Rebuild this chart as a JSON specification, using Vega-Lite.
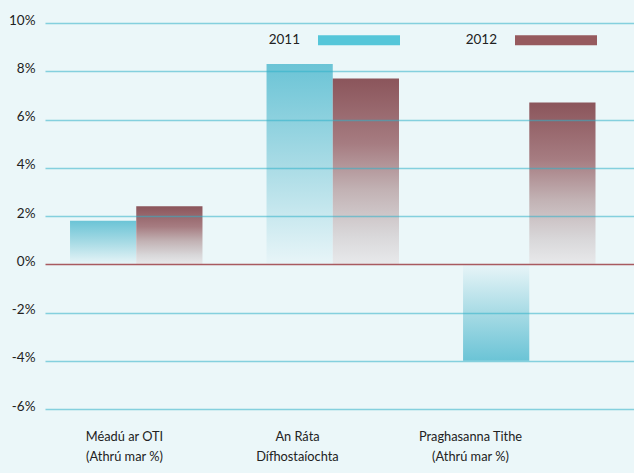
{
  "$schema": "https://vega.github.io/schema/vega-lite/v6.json",
  "autosize": {"type": "none"},
  "padding": {"left": 45, "top": 23, "right": 0, "bottom": 64},
  "width": 589,
  "height": 386,
  "background": "#ebf7f9",
  "config": {
    "view": {"stroke": null},
    "font": "Lato",
    "axis": {"labelFont": "Lato", "labelFontSize": 13.5, "labelColor": "#222222"},
    "legend": {"labelFont": "Lato", "labelFontSize": 13.5, "labelColor": "#222222"}
  },
  "data": {
    "values": [
      {"cat": "Méadú ar OTI|(Athrú mar %)", "year": "2011", "value": 1.8},
      {"cat": "Méadú ar OTI|(Athrú mar %)", "year": "2012", "value": 2.4},
      {"cat": "An Ráta|Dífhostaíochta", "year": "2011", "value": 8.3},
      {"cat": "An Ráta|Dífhostaíochta", "year": "2012", "value": 7.7},
      {"cat": "Praghasanna Tithe|(Athrú mar %)", "year": "2011", "value": -4.0},
      {"cat": "Praghasanna Tithe|(Athrú mar %)", "year": "2012", "value": 6.7}
    ]
  },
  "resolve": {"scale": {"x": "independent"}, "axis": {"x": "independent"}},
  "layer": [
    {
      "encoding": {
        "x": {
          "field": "cat", "type": "nominal", "sort": null, "title": null,
          "scale": {"paddingInner": 0.326, "paddingOuter": 0.1616, "align": 0.394},
          "axis": null
        },
        "xOffset": {"field": "year", "type": "nominal", "scale": {"domain": ["2011", "2012"]}},
        "y": {
          "field": "value", "type": "quantitative", "title": null,
          "scale": {"domain": [-6, 10], "nice": false, "zero": false},
          "axis": {
            "values": [-6, -4, -2, 0, 2, 4, 6, 8, 10],
            "labelExpr": "datum.value + '%'",
            "domain": false, "ticks": false, "zindex": 1,
            "labelBaseline": "alphabetic", "labelOffset": 1, "labelPadding": 10,
            "gridWidth": 1.5,
            "gridColor": {"condition": {"test": "datum.value === 0", "value": "#a85a60"}, "value": "#2fb0c8"},
            "gridOpacity": {"condition": {"test": "datum.value === 0", "value": 1}, "value": 0.55}
          }
        }
      },
      "layer": [
        {
          "mark": {"type": "bar"},
          "encoding": {
            "y": {"datum": 0},
            "color": {
              "field": "year", "type": "nominal",
              "scale": {"domain": ["2011", "2012"], "range": ["#55c6d9", "#965a5e"]},
              "legend": {
                "title": null, "orient": "none", "legendX": 273, "legendY": -24,
                "direction": "horizontal",
                "symbolType": "M-1,-0.122H1V0.122H-1Z", "symbolSize": 6724,
                "symbolStrokeWidth": 0,
                "labelAlign": "right", "labelOffset": -100, "columnPadding": 65
              }
            }
          }
        },
        {
          "transform": [{"filter": "datum.year === '2011' && datum.value >= 0"}],
          "mark": {
            "type": "bar",
            "color": {"gradient": "linear", "x1": 0, "y1": 0, "x2": 0, "y2": 1,
              "stops": [{"offset": 0, "color": "#6bc4d6"}, {"offset": 0.5, "color": "#a8dbe5"}, {"offset": 1, "color": "#e8f5f8"}]}
          }
        },
        {
          "transform": [{"filter": "datum.year === '2011' && datum.value < 0"}],
          "mark": {
            "type": "bar",
            "color": {"gradient": "linear", "x1": 0, "y1": 0, "x2": 0, "y2": 1,
              "stops": [{"offset": 0, "color": "#e8f5f8"}, {"offset": 0.5, "color": "#a8dbe5"}, {"offset": 1, "color": "#6bc4d6"}]}
          }
        },
        {
          "transform": [{"filter": "datum.year === '2012'"}],
          "mark": {
            "type": "bar",
            "color": {"gradient": "linear", "x1": 0, "y1": 0, "x2": 0, "y2": 1,
              "stops": [{"offset": 0, "color": "#8b555b"}, {"offset": 0.35, "color": "#a67c81"}, {"offset": 0.6, "color": "#c2b2b4"}, {"offset": 0.85, "color": "#d9d8da"}, {"offset": 1, "color": "#e8e9eb"}]}
          }
        }
      ]
    },
    {
      "mark": {"type": "point", "opacity": 0},
      "encoding": {
        "x": {
          "field": "cat", "type": "nominal", "sort": null, "title": null,
          "scale": {"type": "point", "padding": 0.7023, "align": 0.325},
          "axis": {
            "orient": "bottom",
            "labelExpr": "split(datum.label, '|')",
            "labelAngle": 0, "domain": false, "ticks": false, "grid": false,
            "labelFontSize": 12.8,
            "labelBaseline": "top", "labelPadding": 21, "labelLineHeight": 20
          }
        },
        "y": {"field": "value", "type": "quantitative"}
      }
    }
  ]
}
